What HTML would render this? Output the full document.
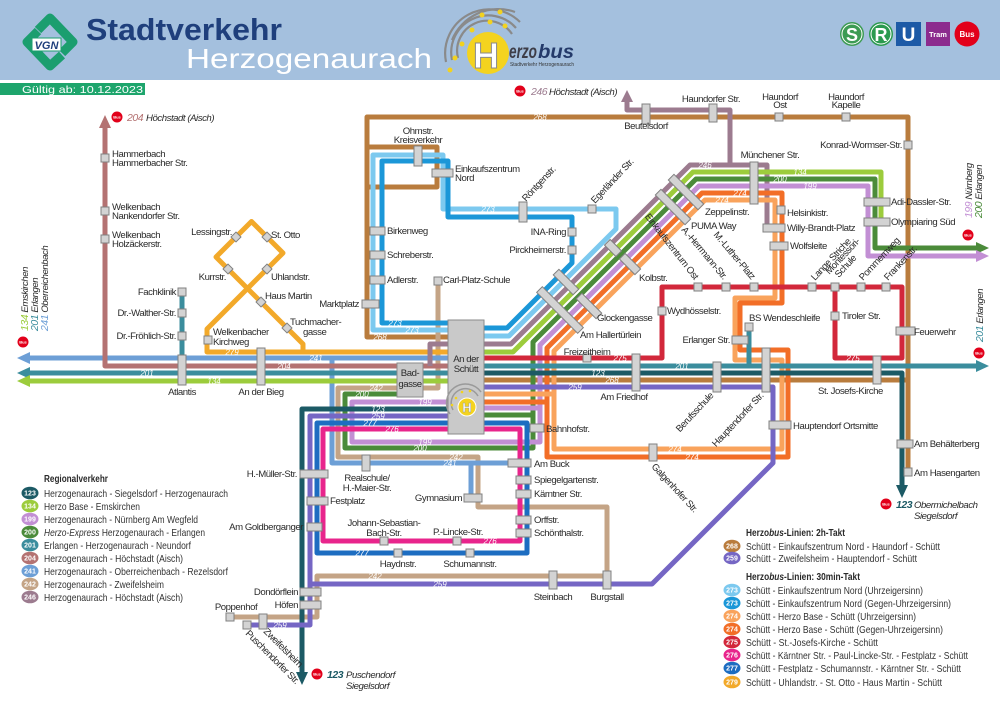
<!DOCTYPE html>
<html><head><meta charset="utf-8">
<style>
html,body{margin:0;padding:0;background:#fff;}
svg{display:block;}
text{font-family:"Liberation Sans Narrow","Liberation Sans",sans-serif;font-size:9.6px;letter-spacing:-0.45px;fill:#2a2a2a;}
.s{fill:#d3d3d3;stroke:#808080;stroke-width:1;}
.n{font-size:8px;fill:#fff;font-style:italic;text-anchor:middle;letter-spacing:0;}
.lg{font-size:10.5px;fill:#333;letter-spacing:0;}
.bd{font-family:"Liberation Sans",sans-serif;font-size:7px;font-weight:bold;fill:#fff;text-anchor:middle;letter-spacing:0;}
.bi{font-family:"Liberation Sans",sans-serif;font-size:4px;font-weight:bold;fill:#fff;text-anchor:middle;letter-spacing:0;}
.it{font-style:italic;}
.m{text-anchor:middle;}
.e{text-anchor:end;}
.h{letter-spacing:0;}
</style></head><body>
<svg width="1000" height="707" viewBox="0 0 1000 707" xmlns="http://www.w3.org/2000/svg">
<rect width="1000" height="707" fill="#fff"/>
<!-- HEADER -->
<rect x="0" y="0" width="1000" height="80" fill="#a4c0de"/>
<g fill="none" stroke="#1b9e6f" stroke-width="9" stroke-linejoin="round">
<path d="M38,30 L50,18 L73,42 L62,53"/>
<path d="M62,55 L50,66 L27,42 L38,31"/>
</g>
<rect x="32" y="38" width="29" height="13" fill="#fff" stroke="#1b9e6f" stroke-width="1"/>
<text x="46.5" y="49" class="m h" style="font-family:'Liberation Sans',sans-serif;font-size:11px;font-weight:bold;font-style:italic;fill:#1f3f7c">VGN</text>
<text x="86" y="40" class="h" style="font-family:'Liberation Sans',sans-serif;font-size:31px;font-weight:bold;fill:#1f3f7c" textLength="196" lengthAdjust="spacingAndGlyphs">Stadtverkehr</text>
<text x="186" y="68" class="h" style="font-family:'Liberation Sans',sans-serif;font-size:28px;fill:#fff" textLength="246" lengthAdjust="spacingAndGlyphs">Herzogenaurach</text>
<!-- Herzobus logo -->
<g fill="none" stroke="#8a8a8a" stroke-width="2.2">
<path d="M458,58 A30,30 0 0 1 512,34"/>
<path d="M452,60 A37,37 0 0 1 516,28"/>
<path d="M446,62 A44,44 0 0 1 520,22"/>
<path d="M452,40 A50,50 0 0 1 515,12"/>
</g>
<g fill="#f2d21f">
<circle cx="462" cy="44" r="2.5"/><circle cx="472" cy="30" r="2.5"/><circle cx="490" cy="22" r="2.5"/><circle cx="505" cy="26" r="2.5"/><circle cx="455" cy="58" r="2.5"/><circle cx="482" cy="15" r="2.5"/><circle cx="500" cy="12" r="2.5"/><circle cx="450" cy="70" r="2.5"/>
</g>
<circle cx="488" cy="53" r="21" fill="#f4d31f"/>
<text x="486" y="68" class="m h" style="font-family:'Liberation Sans',sans-serif;font-size:36px;font-weight:bold;fill:#fff;stroke:#8a8a8a;stroke-width:1">H</text>
<text x="509" y="58" class="h" style="font-family:'Liberation Sans',sans-serif;font-size:19px;font-weight:bold;font-style:italic;fill:#3d3d48" textLength="28" lengthAdjust="spacingAndGlyphs">erzo</text>
<text x="538" y="58" class="h" style="font-family:'Liberation Sans',sans-serif;font-size:19px;font-weight:bold;font-style:italic;fill:#243a6a" textLength="36" lengthAdjust="spacingAndGlyphs">bus</text>
<text x="510" y="66" class="h" style="font-size:5px;fill:#333" textLength="64" lengthAdjust="spacingAndGlyphs">Stadtverkehr Herzogenaurach</text>
<!-- SRU icons -->
<circle cx="852" cy="34" r="12" fill="#3d9b54"/><circle cx="852" cy="34" r="10" fill="none" stroke="#fff" stroke-width="1"/>
<text x="852" y="41" class="m h" style="font-family:'Liberation Sans',sans-serif;font-size:18px;font-weight:bold;fill:#fff">S</text>
<circle cx="881" cy="34" r="12" fill="#2b9a4f"/><circle cx="881" cy="34" r="10" fill="none" stroke="#fff" stroke-width="1"/>
<text x="881" y="41" class="m h" style="font-family:'Liberation Sans',sans-serif;font-size:18px;font-weight:bold;fill:#fff">R</text>
<rect x="896" y="22" width="25" height="24" fill="#1d5aa6"/>
<text x="908.5" y="41" class="m h" style="font-family:'Liberation Sans',sans-serif;font-size:19px;font-weight:bold;fill:#fff">U</text>
<rect x="926" y="22" width="24" height="24" fill="#8c2b8e"/>
<text x="938" y="37" class="m h" style="font-family:'Liberation Sans',sans-serif;font-size:7.5px;font-weight:bold;fill:#fff">Tram</text>
<circle cx="967" cy="34" r="12.5" fill="#e2001a"/>
<text x="967" y="37" class="m h" style="font-family:'Liberation Sans',sans-serif;font-size:8px;font-weight:bold;fill:#fff">Bus</text>
<rect x="0" y="83" width="145" height="12" fill="#1ea56c"/>
<text x="22" y="93" class="h" style="font-size:10.5px;fill:#fff" textLength="121" lengthAdjust="spacingAndGlyphs">Gültig ab: 10.12.2023</text>

<!-- LINES -->
<g fill="none" stroke-width="5" stroke-linejoin="round">
<path stroke="#b97c3d" d="M448,337 H367 V117 H908 V470"/>
<path stroke="#b97c3d" d="M367,147 H437 V187 H367"/>
<path stroke="#b97c3d" d="M484,380 H908"/>
<path stroke="#c4a486" d="M438,281 V388 H338 V457 H478 V507 H607 V576 H317 V617 H230"/>
<path stroke="#6d9fd6" d="M448,358 H28"/>
<path stroke="#6d9fd6" d="M332,358 V463 H530"/>
<path stroke="#6d9fd6" d="M471,463 V497"/>
<path stroke="#b47272" d="M448,366 H105 V126"/>
<path stroke="#f2a92a" d="M448,352 H207 V329 L283,253 L251.5,221.5 L216,257 L303,344 V352"/>
<path stroke="#3b8d9d" d="M182,292 V373"/>
<path stroke="#7cc9ef" d="M448,330 H373 V155 H443 V209 H616 V229 L509,336 H484"/>
<path stroke="#1b97d8" d="M448,323 H382 V161 H448 V217 H572 V263 L507,328 H484"/>
<path stroke="#9c7b8f" d="M627,101 V110 H730 V165 H690 L511,344 H430 V366"/>
<path stroke="#9c7b8f" d="M730,165 H767 V228"/>
<path stroke="#9ccc3c" d="M448,381 H28"/>
<path stroke="#9ccc3c" d="M484,352 H513 L693,172 H881 V222"/>
<path stroke="#4b8b3a" d="M484,415 H533 V342 L696,179 H875 V248 H976"/>
<path stroke="#4b8b3a" d="M402,394 H345 V448 H533 V415"/>
<path stroke="#c28fd4" d="M484,408 H540 V345 L699,186 H868 V256 H976"/>
<path stroke="#c28fd4" d="M448,402 H352 V442 H540 V408"/>
<path stroke="#f26e27" d="M702,193 L547,348 V457 H788 V350 H740 V303 H782 V193 Z"/>
<path stroke="#f26e27" d="M484,402 H547"/>
<path stroke="#f9a35c" d="M705,200 L554,351 V449 H782 V360 H735 V298 H775 V200 Z"/>
<path stroke="#f9a35c" d="M484,394 H554"/>
<path stroke="#d2283b" d="M484,358 H662 V287 H902 V358 H835 V287"/>
<path stroke="#3b8d9d" d="M448,373 H28"/>
<path stroke="#3b8d9d" d="M484,366 H976"/>
<path stroke="#3b8d9d" d="M749,366 V327"/>
<path stroke="#1c5a65" d="M484,373 H902 V486"/>
<path stroke="#1c5a65" d="M448,409 H302 V672"/>
<path stroke="#7566c4" d="M484,387 H773 V463 L652,584 H310"/>
<path stroke="#7566c4" d="M448,416 H310 V625 H247"/>
<path stroke="#1d6dc1" d="M448,423 H317 V553 H527 V423 H484"/>
<path stroke="#e8258c" d="M448,429 H323 V541 H520 V429 H484"/>
</g>
<!-- arrowheads -->
<polygon points="17,358 30,352 30,364" fill="#6d9fd6"/>
<polygon points="17,373 30,367 30,379" fill="#3b8d9d"/>
<polygon points="17,381 30,375 30,387" fill="#9ccc3c"/>
<polygon points="105,115 99,128 111,128" fill="#b47272"/>
<polygon points="627,90 621,102 633,102" fill="#9c7b8f"/>
<polygon points="989,248 976,242 976,254" fill="#4b8b3a"/>
<polygon points="989,256 976,250 976,262" fill="#c28fd4"/>
<polygon points="989,366 976,360 976,372" fill="#3b8d9d"/>
<polygon points="902,498 896,485 908,485" fill="#1c5a65"/>
<polygon points="302,685 296,672 308,672" fill="#1c5a65"/>

<!-- line numbers -->
<text class="n" x="540" y="120">268</text><text class="n" x="380" y="340">268</text><text class="n" x="612" y="383">268</text>
<text class="n" x="488" y="212">273</text><text class="n" x="398" y="220">273</text><text class="n" x="395" y="326">273</text><text class="n" x="412" y="333">273</text>
<text class="n" x="705" y="168">246</text>
<text class="n" x="800" y="175">134</text><text class="n" x="214" y="384">134</text>
<text class="n" x="780" y="182">200</text><text class="n" x="362" y="397">200</text><text class="n" x="420" y="451">200</text>
<text class="n" x="810" y="189">199</text><text class="n" x="425" y="405">199</text><text class="n" x="425" y="445">199</text>
<text class="n" x="740" y="196">274</text><text class="n" x="722" y="203">274</text><text class="n" x="675" y="452">274</text><text class="n" x="692" y="460">274</text>
<text class="n" x="232" y="355">279</text>
<text class="n" x="316" y="361">241</text><text class="n" x="450" y="466">241</text>
<text class="n" x="284" y="369">204</text>
<text class="n" x="147" y="376">201</text><text class="n" x="682" y="369">201</text>
<text class="n" x="620" y="361">275</text><text class="n" x="853" y="361">275</text>
<text class="n" x="378" y="412">123</text><text class="n" x="598" y="376">123</text>
<text class="n" x="378" y="419">259</text><text class="n" x="575" y="390">259</text><text class="n" x="440" y="587">259</text><text class="n" x="280" y="628">259</text>
<text class="n" x="370" y="426">277</text><text class="n" x="362" y="556">277</text>
<text class="n" x="392" y="432">276</text><text class="n" x="490" y="544">276</text>
<text class="n" x="376" y="391">242</text><text class="n" x="456" y="460">242</text><text class="n" x="375" y="579">242</text>

<!-- STATIONS -->
<g>
<rect class="s" x="101" y="154" width="8" height="8"/>
<rect class="s" x="101" y="207" width="8" height="8"/>
<rect class="s" x="101" y="235" width="8" height="8"/>
<rect class="s" x="178" y="288" width="8" height="8"/>
<rect class="s" x="178" y="309" width="8" height="8"/>
<rect class="s" x="178" y="332" width="8" height="8"/>
<rect class="s" x="178" y="355" width="8" height="30"/>
<rect class="s" x="257" y="348" width="8" height="37"/>
<rect class="s" x="204" y="336" width="8" height="8"/>
<rect class="s" x="-3.5" y="-3.5" width="7" height="7" transform="translate(236,237) rotate(45)"/>
<rect class="s" x="-3.5" y="-3.5" width="7" height="7" transform="translate(267,237) rotate(45)"/>
<rect class="s" x="-3.5" y="-3.5" width="7" height="7" transform="translate(228,269) rotate(45)"/>
<rect class="s" x="-3.5" y="-3.5" width="7" height="7" transform="translate(267,269) rotate(45)"/>
<rect class="s" x="-3.5" y="-3.5" width="7" height="7" transform="translate(261,302) rotate(45)"/>
<rect class="s" x="-3.5" y="-3.5" width="7" height="7" transform="translate(287,328) rotate(45)"/>
<rect class="s" x="362" y="300" width="17" height="8"/>
<rect class="s" x="370" y="227" width="15" height="8"/>
<rect class="s" x="370" y="251" width="15" height="8"/>
<rect class="s" x="370" y="276" width="15" height="8"/>
<rect class="s" x="414" y="146" width="8" height="20"/>
<rect class="s" x="432" y="169" width="21" height="8"/>
<rect class="s" x="519" y="202" width="8" height="20"/>
<rect class="s" x="588" y="205" width="8" height="8"/>
<rect class="s" x="568" y="228" width="8" height="8"/>
<rect class="s" x="568" y="246" width="8" height="8"/>
<rect class="s" x="434" y="277" width="8" height="8"/>
<rect class="s" x="642" y="104" width="8" height="20"/>
<rect class="s" x="709" y="104" width="8" height="18"/>
<rect class="s" x="775" y="113" width="8" height="8"/>
<rect class="s" x="842" y="113" width="8" height="8"/>
<rect class="s" x="904" y="141" width="8" height="8"/>
<rect class="s" x="750" y="162" width="8" height="42"/>
<rect class="s" x="777" y="206" width="8" height="8"/>
<rect class="s" x="763" y="224" width="22" height="8"/>
<rect class="s" x="770" y="242" width="18" height="8"/>
<rect class="s" x="864" y="198" width="26" height="8"/>
<rect class="s" x="864" y="218" width="26" height="8"/>
<rect class="s" x="694" y="283" width="8" height="8"/>
<rect class="s" x="722" y="283" width="8" height="8"/>
<rect class="s" x="750" y="283" width="8" height="8"/>
<rect class="s" x="808" y="283" width="8" height="8"/>
<rect class="s" x="831" y="283" width="8" height="8"/>
<rect class="s" x="857" y="283" width="8" height="8"/>
<rect class="s" x="882" y="283" width="8" height="8"/>
<rect class="s" x="658" y="307" width="8" height="8"/>
<rect class="s" x="831" y="312" width="8" height="8"/>
<rect class="s" x="896" y="327" width="19" height="8"/>
<rect class="s" x="583" y="354" width="8" height="8"/>
<rect class="s" x="632" y="354" width="8" height="37"/>
<rect class="s" x="732" y="336" width="16" height="8"/>
<rect class="s" x="745" y="323" width="8" height="8"/>
<rect class="s" x="713" y="362" width="8" height="30"/>
<rect class="s" x="762" y="348" width="8" height="44"/>
<rect class="s" x="873" y="356" width="8" height="28"/>
<rect class="s" x="769" y="421" width="22" height="8"/>
<rect class="s" x="649" y="444" width="8" height="17"/>
<rect class="s" x="897" y="440" width="16" height="8"/>
<rect class="s" x="904" y="468" width="8" height="8"/>
<rect class="s" x="530" y="424" width="14" height="8"/>
<rect class="s" x="508" y="459" width="23" height="8"/>
<rect class="s" x="516" y="476" width="15" height="8"/>
<rect class="s" x="516" y="490" width="15" height="8"/>
<rect class="s" x="516" y="516" width="15" height="8"/>
<rect class="s" x="516" y="529" width="15" height="8"/>
<rect class="s" x="362" y="455" width="8" height="16"/>
<rect class="s" x="464" y="494" width="18" height="8"/>
<rect class="s" x="300" y="470" width="28" height="8"/>
<rect class="s" x="307" y="497" width="21" height="8"/>
<rect class="s" x="307" y="523" width="15" height="8"/>
<rect class="s" x="300" y="588" width="21" height="8"/>
<rect class="s" x="300" y="601" width="21" height="8"/>
<rect class="s" x="226" y="613" width="8" height="8"/>
<rect class="s" x="259" y="614" width="8" height="15"/>
<rect class="s" x="243" y="621" width="8" height="8"/>
<rect class="s" x="394" y="549" width="8" height="8"/>
<rect class="s" x="466" y="549" width="8" height="8"/>
<rect class="s" x="380" y="537" width="8" height="8"/>
<rect class="s" x="453" y="537" width="8" height="8"/>
<rect class="s" x="549" y="571" width="8" height="18"/>
<rect class="s" x="603" y="571" width="8" height="18"/>
<!-- diagonal bars -->
<rect class="s" x="-14" y="-4" width="28" height="8" transform="translate(566,282) rotate(45)"/>
<rect class="s" x="-14" y="-4" width="28" height="8" transform="translate(589,306) rotate(45)"/>
<rect class="s" x="-29" y="-4" width="58" height="8" transform="translate(560,310) rotate(45)"/>
<rect class="s" x="-8" y="-4" width="16" height="8" transform="translate(613,248) rotate(45)"/>
<rect class="s" x="-11" y="-4" width="22" height="8" transform="translate(630,264) rotate(45)"/>
<rect class="s" x="-21" y="-4" width="42" height="8" transform="translate(686,192) rotate(45)"/>
<rect class="s" x="-21" y="-4" width="42" height="8" transform="translate(673,207) rotate(45)"/>
</g>

<!-- Schütt & Badgasse boxes -->
<rect x="448" y="320" width="36" height="114" fill="#c9c9c9" stroke="#8a8a8a" stroke-width="1"/>
<text x="466" y="362" class="m">An der</text>
<text x="466" y="372" class="m">Schütt</text>
<g fill="none" stroke="#9a9a9a" stroke-width="1.5">
<path d="M453,410 A14,14 0 0 1 478,396"/>
<path d="M450,414 A18,18 0 0 1 481,392"/>
</g>
<g fill="#f2d21f"><circle cx="456" cy="398" r="1.3"/><circle cx="462" cy="392" r="1.3"/><circle cx="470" cy="391" r="1.3"/><circle cx="452" cy="405" r="1.3"/></g>
<circle cx="467" cy="407" r="9" fill="#f4d31f" stroke="#fff" stroke-width="1"/>
<text x="467" y="412" class="m h" style="font-family:'Liberation Sans',sans-serif;font-size:13px;font-weight:bold;fill:#fff;stroke:#999;stroke-width:.5">H</text>
<rect x="397" y="363" width="26" height="34" fill="#c9c9c9" stroke="#8a8a8a" stroke-width="1"/>
<text x="410" y="376" class="m">Bad-</text>
<text x="410" y="387" class="m">gasse</text>

<!-- STATION LABELS -->
<text x="112" y="157">Hammerbach</text><text x="112" y="166">Hammerbacher Str.</text>
<text x="112" y="210">Welkenbach</text><text x="112" y="219">Nankendorfer Str.</text>
<text x="112" y="238">Welkenbach</text><text x="112" y="247">Holzäckerstr.</text>
<text x="176" y="295" class="e">Fachklinik</text>
<text x="176" y="316" class="e">Dr.-Walther-Str.</text>
<text x="176" y="339" class="e">Dr.-Fröhlich-Str.</text>
<text x="182" y="395" class="m">Atlantis</text>
<text x="261" y="395" class="m">An der Bieg</text>
<text x="232" y="235" class="e">Lessingstr.</text>
<text x="271" y="238">St. Otto</text>
<text x="226" y="280" class="e">Kurrstr.</text>
<text x="271" y="280">Uhlandstr.</text>
<text x="265" y="299">Haus Martin</text>
<text x="290" y="325">Tuchmacher-</text><text x="303" y="335">gasse</text>
<text x="213" y="335">Welkenbacher</text><text x="213" y="345">Kirchweg</text>
<text x="359" y="307" class="e">Marktplatz</text>
<text x="387" y="234">Birkenweg</text>
<text x="387" y="258">Schreberstr.</text>
<text x="387" y="283">Adlerstr.</text>
<text x="418" y="134" class="m">Ohmstr.</text><text x="418" y="143" class="m">Kreisverkehr</text>
<text x="455" y="172">Einkaufszentrum</text><text x="455" y="181">Nord</text>
<text x="443" y="283">Carl-Platz-Schule</text>
<text x="566" y="235" class="e">INA-Ring</text>
<text x="566" y="253" class="e">Pirckheimerstr.</text>
<text transform="translate(526,202) rotate(-47)">Röntgenstr.</text>
<text transform="translate(595,204) rotate(-47)">Egerländer Str.</text>
<text x="646" y="129" class="m">Beutelsdorf</text>
<text x="711" y="102" class="m">Haundorfer Str.</text>
<text x="780" y="100" class="m">Haundorf</text><text x="780" y="108" class="m">Ost</text>
<text x="846" y="100" class="m">Haundorf</text><text x="846" y="108" class="m">Kapelle</text>
<text x="902" y="148" class="e">Konrad-Wormser-Str.</text>
<text x="770" y="158" class="m">Münchener Str.</text>
<text x="787" y="216">Helsinkistr.</text>
<text x="787" y="231">Willy-Brandt-Platz</text>
<text x="790" y="249">Wolfsleite</text>
<text x="705" y="215">Zeppelinstr.</text>
<text x="691" y="229">PUMA Way</text>
<text x="639" y="281">Kolbstr.</text>
<text x="597" y="321">Glockengasse</text>
<text x="580" y="338">Am Hallertürlein</text>
<text x="891" y="205">Adi-Dassler-Str.</text>
<text x="891" y="225">Olympiaring Süd</text>
<text transform="translate(694,280) rotate(52)" class="e">Einkaufszentrum Ost</text>
<text transform="translate(723,280) rotate(50)" class="e">A.-Herrmann-Str.</text>
<text transform="translate(751,280) rotate(50)" class="e">M.-Luther-Platz</text>
<text transform="translate(815,281) rotate(-47)">Lange Striche</text>
<text transform="translate(836,281) rotate(-47)"><tspan x="0" y="-9">Montessori-</tspan><tspan x="4" y="0">Schule</tspan></text>
<text transform="translate(863,281) rotate(-47)">Pommernweg</text>
<text transform="translate(888,281) rotate(-47)">Frankenstr.</text>
<text x="667" y="314">Wydhösselstr.</text>
<text x="842" y="319">Tiroler Str.</text>
<text x="914" y="335">Feuerwehr</text>
<text x="587" y="355" class="m">Freizeitheim</text>
<text x="624" y="400" class="m">Am Friedhof</text>
<text x="730" y="343" class="e">Erlanger Str.</text>
<text x="749" y="321">BS Wendeschleife</text>
<text transform="translate(714,396) rotate(-47)" class="e">Berufsschule</text>
<text transform="translate(764,396) rotate(-47)" class="e">Hauptendorfer Str.</text>
<text x="818" y="394">St. Josefs-Kirche</text>
<text x="793" y="429">Hauptendorf Ortsmitte</text>
<text transform="translate(651,467) rotate(47)">Galgenhofer Str.</text>
<text x="914" y="447">Am Behälterberg</text>
<text x="914" y="476">Am Hasengarten</text>
<text x="546" y="432">Bahnhofstr.</text>
<text x="534" y="467">Am Buck</text>
<text x="534" y="483">Spiegelgartenstr.</text>
<text x="534" y="497">Kärntner Str.</text>
<text x="534" y="523">Orffstr.</text>
<text x="534" y="536">Schönthalstr.</text>
<text x="367" y="481" class="m">Realschule/</text><text x="367" y="491" class="m">H.-Maier-Str.</text>
<text x="462" y="501" class="e">Gymnasium</text>
<text x="297" y="477" class="e">H.-Müller-Str.</text>
<text x="330" y="504">Festplatz</text>
<text x="303" y="530" class="e">Am Goldberganger</text>
<text x="384" y="526" class="m">Johann-Sebastian-</text><text x="384" y="536" class="m">Bach-Str.</text>
<text x="458" y="535" class="m">P.-Lincke-Str.</text>
<text x="398" y="567" class="m">Haydnstr.</text>
<text x="470" y="567" class="m">Schumannstr.</text>
<text x="298" y="595" class="e">Dondörflein</text>
<text x="298" y="608" class="e">Höfen</text>
<text x="236" y="610" class="m">Poppenhof</text>
<text transform="translate(263,632) rotate(45)">Zweifelsheim</text>
<text transform="translate(245,634) rotate(45)">Puschendorfer Str.</text>
<text x="553" y="600" class="m">Steinbach</text>
<text x="607" y="600" class="m">Burgstall</text>

<!-- bus destinations -->
<circle cx="117" cy="117" r="5.5" fill="#e2001a"/><text x="117" y="118.5" class="bi">Bus</text>
<text x="127" y="121" class="it" style="fill:#b47272;font-size:10.5px">204</text>
<text x="146" y="121" class="it">Höchstadt (Aisch)</text>
<circle cx="520" cy="91" r="5.5" fill="#e2001a"/><text x="520" y="92.5" class="bi">Bus</text>
<text x="531" y="95" class="it" style="fill:#9c7b8f;font-size:10.5px">246</text>
<text x="549" y="95" class="it">Höchstadt (Aisch)</text>
<circle cx="886" cy="504" r="5.5" fill="#e2001a"/><text x="886" y="505.5" class="bi">Bus</text>
<text x="896" y="508" class="it" style="fill:#1c5a65;font-weight:bold;font-size:10.5px">123</text>
<text x="914" y="508" class="it">Obermichelbach</text>
<text x="914" y="519" class="it">Siegelsdorf</text>
<circle cx="317" cy="674" r="5.5" fill="#e2001a"/><text x="317" y="675.5" class="bi">Bus</text>
<text x="327" y="678" class="it" style="fill:#1c5a65;font-weight:bold;font-size:10.5px">123</text>
<text x="346" y="678" class="it">Puschendorf</text>
<text x="346" y="689" class="it">Siegelsdorf</text>
<circle cx="23" cy="342" r="5.5" fill="#e2001a"/><text x="23" y="343.5" class="bi">Bus</text>
<text transform="translate(28,331) rotate(-90)" class="it"><tspan style="fill:#9ccc3c;font-size:10.5px">134</tspan> Emskirchen</text>
<text transform="translate(38,331) rotate(-90)" class="it"><tspan style="fill:#3b8d9d;font-size:10.5px">201</tspan> Erlangen</text>
<text transform="translate(48,331) rotate(-90)" class="it"><tspan style="fill:#6d9fd6;font-size:10.5px">241</tspan> Oberreichenbach</text>
<circle cx="968" cy="235" r="5.5" fill="#e2001a"/><text x="968" y="236.5" class="bi">Bus</text>
<text transform="translate(972,218) rotate(-90)" class="it"><tspan style="fill:#c28fd4;font-size:10.5px">199</tspan> Nürnberg</text>
<text transform="translate(982,218) rotate(-90)" class="it"><tspan style="fill:#4b8b3a;font-size:10.5px">200</tspan> Erlangen</text>
<circle cx="979" cy="353" r="5.5" fill="#e2001a"/><text x="979" y="354.5" class="bi">Bus</text>
<text transform="translate(983,342) rotate(-90)" class="it"><tspan style="fill:#3b8d9d;font-size:10.5px">201</tspan> Erlangen</text>

<!-- LEGEND LEFT -->
<text x="44" y="482" class="h" style="font-weight:bold;font-size:10.5px" textLength="64" lengthAdjust="spacingAndGlyphs">Regionalverkehr</text>
<g>
<ellipse cx="30" cy="493" rx="8.5" ry="6.3" fill="#1c5a65"/><text x="30" y="495.5" class="bd">123</text>
<text x="44" y="497" class="lg" textLength="184" lengthAdjust="spacingAndGlyphs">Herzogenaurach - Siegelsdorf - Herzogenaurach</text>
<ellipse cx="30" cy="506" rx="8.5" ry="6.3" fill="#9ccc3c"/><text x="30" y="508.5" class="bd">134</text>
<text x="44" y="510" class="lg" textLength="96" lengthAdjust="spacingAndGlyphs">Herzo Base - Emskirchen</text>
<ellipse cx="30" cy="519" rx="8.5" ry="6.3" fill="#c28fd4"/><text x="30" y="521.5" class="bd">199</text>
<text x="44" y="523" class="lg" textLength="154" lengthAdjust="spacingAndGlyphs">Herzogenaurach - Nürnberg Am Wegfeld</text>
<ellipse cx="30" cy="532" rx="8.5" ry="6.3" fill="#4b8b3a"/><text x="30" y="534.5" class="bd">200</text>
<text x="44" y="536" class="lg" textLength="161" lengthAdjust="spacingAndGlyphs"><tspan class="it">Herzo-Express</tspan> Herzogenaurach - Erlangen</text>
<ellipse cx="30" cy="545" rx="8.5" ry="6.3" fill="#3b8d9d"/><text x="30" y="547.5" class="bd">201</text>
<text x="44" y="549" class="lg" textLength="147" lengthAdjust="spacingAndGlyphs">Erlangen - Herzogenaurach - Neundorf</text>
<ellipse cx="30" cy="558" rx="8.5" ry="6.3" fill="#b47272"/><text x="30" y="560.5" class="bd">204</text>
<text x="44" y="562" class="lg" textLength="139" lengthAdjust="spacingAndGlyphs">Herzogenaurach - Höchstadt (Aisch)</text>
<ellipse cx="30" cy="571" rx="8.5" ry="6.3" fill="#6d9fd6"/><text x="30" y="573.5" class="bd">241</text>
<text x="44" y="575" class="lg" textLength="184" lengthAdjust="spacingAndGlyphs">Herzogenaurach - Oberreichenbach - Rezelsdorf</text>
<ellipse cx="30" cy="584" rx="8.5" ry="6.3" fill="#c4a486"/><text x="30" y="586.5" class="bd">242</text>
<text x="44" y="588" class="lg" textLength="120" lengthAdjust="spacingAndGlyphs">Herzogenaurach - Zweifelsheim</text>
<ellipse cx="30" cy="597" rx="8.5" ry="6.3" fill="#9c7b8f"/><text x="30" y="599.5" class="bd">246</text>
<text x="44" y="601" class="lg" textLength="139" lengthAdjust="spacingAndGlyphs">Herzogenaurach - Höchstadt (Aisch)</text>
</g>

<!-- LEGEND RIGHT -->
<text x="746" y="536" class="h" style="font-weight:bold;font-size:10.5px" textLength="99" lengthAdjust="spacingAndGlyphs">Herzo<tspan class="it">bus</tspan>-Linien: 2h-Takt</text>
<ellipse cx="732" cy="546" rx="8.5" ry="6.3" fill="#b97c3d"/><text x="732" y="548.5" class="bd">268</text>
<text x="746" y="550" class="lg" textLength="194" lengthAdjust="spacingAndGlyphs">Schütt - Einkaufszentrum Nord - Haundorf - Schütt</text>
<ellipse cx="732" cy="558" rx="8.5" ry="6.3" fill="#7566c4"/><text x="732" y="560.5" class="bd">259</text>
<text x="746" y="562" class="lg" textLength="171" lengthAdjust="spacingAndGlyphs">Schütt - Zweifelsheim - Hauptendorf - Schütt</text>
<text x="746" y="580" class="h" style="font-weight:bold;font-size:10.5px" textLength="114" lengthAdjust="spacingAndGlyphs">Herzo<tspan class="it">bus</tspan>-Linien: 30min-Takt</text>
<ellipse cx="732" cy="590" rx="8.5" ry="6.3" fill="#7cc9ef"/><text x="732" y="592.5" class="bd">273</text>
<text x="746" y="594" class="lg" textLength="177" lengthAdjust="spacingAndGlyphs">Schütt - Einkaufszentrum Nord (Uhrzeigersinn)</text>
<ellipse cx="732" cy="603" rx="8.5" ry="6.3" fill="#1b97d8"/><text x="732" y="605.5" class="bd">273</text>
<text x="746" y="607" class="lg" textLength="205" lengthAdjust="spacingAndGlyphs">Schütt - Einkaufszentrum Nord (Gegen-Uhrzeigersinn)</text>
<ellipse cx="732" cy="616" rx="8.5" ry="6.3" fill="#f9a35c"/><text x="732" y="618.5" class="bd">274</text>
<text x="746" y="620" class="lg" textLength="170" lengthAdjust="spacingAndGlyphs">Schütt - Herzo Base - Schütt (Uhrzeigersinn)</text>
<ellipse cx="732" cy="629" rx="8.5" ry="6.3" fill="#f26e27"/><text x="732" y="631.5" class="bd">274</text>
<text x="746" y="633" class="lg" textLength="197" lengthAdjust="spacingAndGlyphs">Schütt - Herzo Base - Schütt (Gegen-Uhrzeigersinn)</text>
<ellipse cx="732" cy="642" rx="8.5" ry="6.3" fill="#d2283b"/><text x="732" y="644.5" class="bd">275</text>
<text x="746" y="646" class="lg" textLength="132" lengthAdjust="spacingAndGlyphs">Schütt - St.-Josefs-Kirche - Schütt</text>
<ellipse cx="732" cy="655" rx="8.5" ry="6.3" fill="#e8258c"/><text x="732" y="657.5" class="bd">276</text>
<text x="746" y="659" class="lg" textLength="222" lengthAdjust="spacingAndGlyphs">Schütt - Kärntner Str. - Paul-Lincke-Str. - Festplatz - Schütt</text>
<ellipse cx="732" cy="668" rx="8.5" ry="6.3" fill="#1d6dc1"/><text x="732" y="670.5" class="bd">277</text>
<text x="746" y="672" class="lg" textLength="215" lengthAdjust="spacingAndGlyphs">Schütt - Festplatz - Schumannstr. - Kärntner Str. - Schütt</text>
<ellipse cx="732" cy="682" rx="8.5" ry="6.3" fill="#f2a92a"/><text x="732" y="684.5" class="bd">279</text>
<text x="746" y="686" class="lg" textLength="196" lengthAdjust="spacingAndGlyphs">Schütt - Uhlandstr. - St. Otto - Haus Martin - Schütt</text>
</svg>
</body></html>
